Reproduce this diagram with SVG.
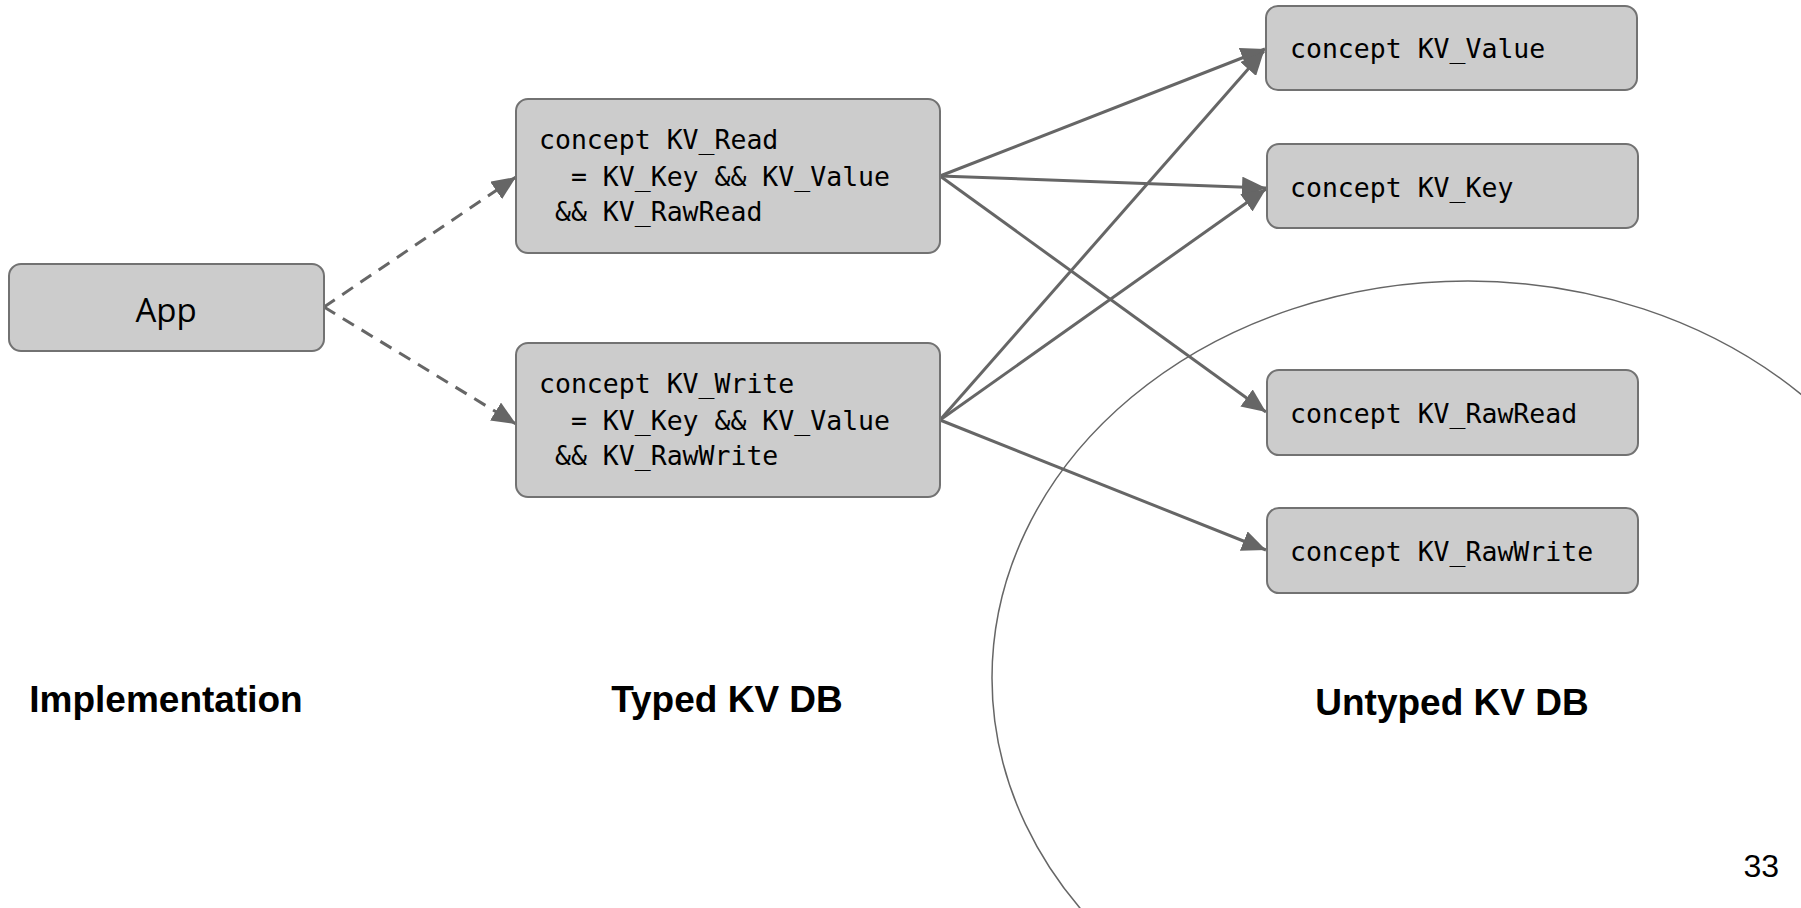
<svg xmlns="http://www.w3.org/2000/svg" width="1801" height="908" viewBox="0 0 1801 908">
<style>
.box{fill:#cccccc;stroke:#727272;stroke-width:2}
.mono{font-family:"DejaVu Sans Mono","Liberation Mono",monospace;font-size:26.5px;fill:#000}
.lbl{font-family:"Liberation Sans",Arial,sans-serif;font-weight:bold;font-size:37px;fill:#000}
.edge{stroke:#666666;stroke-width:3;fill:none}
.dash{stroke-dasharray:13,9}
</style>
<defs>
<marker id="ah" markerUnits="strokeWidth" markerWidth="8" markerHeight="7" refX="8" refY="3.5" orient="auto">
<path d="M0,0 L8,3.5 L0,7 z" fill="#666666"/>
</marker>
</defs>
<rect width="1801" height="908" fill="#ffffff"/>
<ellipse cx="1468" cy="678" rx="476" ry="397" fill="none" stroke="#666666" stroke-width="1.5"/>
<g id="connectors">
<line class="edge dash" x1="324" y1="307" x2="516" y2="177" marker-end="url(#ah)"/>
<line class="edge dash" x1="324" y1="307" x2="516" y2="424" marker-end="url(#ah)"/>
<line class="edge" x1="940" y1="176" x2="1265" y2="49" marker-end="url(#ah)"/>
<line class="edge" x1="940" y1="176" x2="1266" y2="188" marker-end="url(#ah)"/>
<line class="edge" x1="940" y1="176" x2="1266" y2="412" marker-end="url(#ah)"/>
<line class="edge" x1="940" y1="420" x2="1264" y2="51" marker-end="url(#ah)"/>
<line class="edge" x1="940" y1="420" x2="1266" y2="189" marker-end="url(#ah)"/>
<line class="edge" x1="940" y1="420" x2="1266" y2="550" marker-end="url(#ah)"/>
</g>
<g id="app">
<rect class="box" x="9" y="264" width="315" height="87" rx="12"/>
<text x="166" y="322" text-anchor="middle" font-family="'Open Sans','Noto Sans',sans-serif" font-size="33" fill="#000">App</text>
</g>
<g id="kv_read">
<rect class="box" x="516" y="99" width="424" height="154" rx="12"/>
<text class="mono" xml:space="preserve"><tspan x="539" y="149">concept KV_Read</tspan><tspan x="539" y="186">  = KV_Key &amp;&amp; KV_Value</tspan><tspan x="539" y="221"> &amp;&amp; KV_RawRead</tspan></text>
</g>
<g id="kv_write">
<rect class="box" x="516" y="343" width="424" height="154" rx="12"/>
<text class="mono" xml:space="preserve"><tspan x="539" y="393">concept KV_Write</tspan><tspan x="539" y="430">  = KV_Key &amp;&amp; KV_Value</tspan><tspan x="539" y="465"> &amp;&amp; KV_RawWrite</tspan></text>
</g>
<g id="kv_value">
<rect class="box" x="1266" y="6" width="371" height="84" rx="12"/>
<text class="mono" x="1290" y="58">concept KV_Value</text>
</g>
<g id="kv_key">
<rect class="box" x="1267" y="144" width="371" height="84" rx="12"/>
<text class="mono" x="1290" y="197">concept KV_Key</text>
</g>
<g id="kv_rawread">
<rect class="box" x="1267" y="370" width="371" height="85" rx="12"/>
<text class="mono" x="1290" y="423">concept KV_RawRead</text>
</g>
<g id="kv_rawwrite">
<rect class="box" x="1267" y="508" width="371" height="85" rx="12"/>
<text class="mono" x="1290" y="561">concept KV_RawWrite</text>
</g>
<g id="labels">
<text class="lbl" x="166" y="712" text-anchor="middle">Implementation</text>
<text class="lbl" x="727" y="712" text-anchor="middle">Typed KV DB</text>
<text class="lbl" x="1452" y="715" text-anchor="middle">Untyped KV DB</text>
<text x="1779" y="877" text-anchor="end" font-family="'Liberation Sans',Arial,sans-serif" font-size="32" fill="#000">33</text>
</g>
</svg>
